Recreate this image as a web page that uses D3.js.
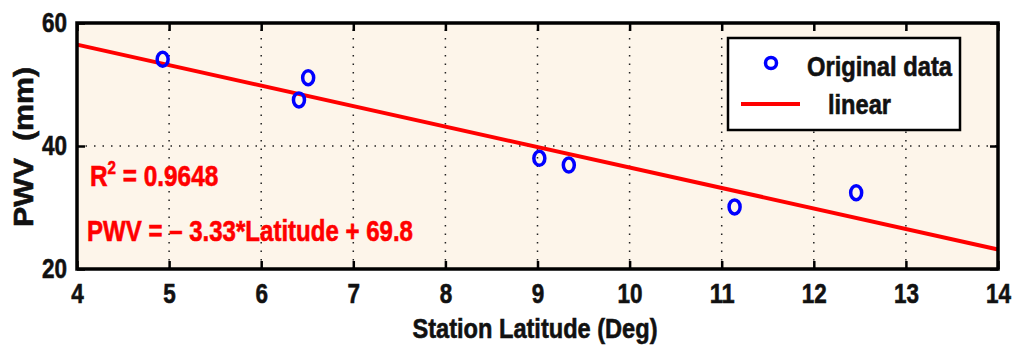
<!DOCTYPE html>
<html>
<head>
<meta charset="utf-8">
<script src="https://cdn.jsdelivr.net/npm/d3@7"></script>
<style>
body { margin: 0; background: #fff; }
text { font-family: "Liberation Sans", Arial, sans-serif; font-weight: bold; }
</style>
</head>
<body>
<svg id="chart"></svg>
<script>
// station latitude vs PWV
const latitude = [4.93, 6.41, 6.51, 9.02, 9.34, 11.14, 12.46];
const pwv = [54.1, 47.5, 51.1, 38.0, 36.9, 30.1, 32.4];
const slope = -3.33, intercept = 69.8;
const xTicks = [4, 5, 6, 7, 8, 9, 10, 11, 12, 13, 14];
const yTicks = [20, 40, 60];

const width = 1016, height = 347;
const margin = {left: 77, right: 18, top: 23, bottom: 78};

const svg = d3.select("#chart").attr("width", width).attr("height", height);

const x = d3.scaleLinear().domain([4, 14]).range([margin.left, width - margin.right]);
const y = d3.scaleLinear().domain([20, 60]).range([height - margin.bottom, margin.top]);

// the original font is a narrow heavy one, so squeeze text to its width
function squeeze(sel, w){
	sel.attr("textLength", w).attr("lengthAdjust", "spacingAndGlyphs");
}
function heavy(sel, c){
	sel.attr("stroke", c).attr("stroke-width", 0.6);
}

// background
svg.append("rect")
	.attr("x", x(4)).attr("y", y(60))
	.attr("width", x(14) - x(4)).attr("height", y(20) - y(60))
	.attr("fill", "#fdf5ea");

// dotted grid
svg.append("g").selectAll("line")
	.data(xTicks.slice(1, -1))
	.join("line")
	.attr("x1", d => x(d)).attr("x2", d => x(d))
	.attr("y1", y(20)).attr("y2", y(60))
	.attr("stroke", "#222").attr("stroke-width", 1.5)
	.attr("stroke-dasharray", "1.5,7");
svg.append("g").selectAll("line")
	.data(yTicks.slice(1, -1))
	.join("line")
	.attr("y1", d => y(d)).attr("y2", d => y(d))
	.attr("x1", x(4)).attr("x2", x(14))
	.attr("stroke", "#222").attr("stroke-width", 1.5)
	.attr("stroke-dasharray", "1.5,7");

// axes with inward ticks
const tickLen = 8;
svg.append("g")
	.attr("transform", "translate(0," + y(20) + ")")
	.call(d3.axisBottom(x).tickValues(xTicks).tickSize(-tickLen).tickPadding(14).tickFormat(d3.format("d")))
	.call(g => g.select(".domain").remove())
	.call(g => g.selectAll("line").attr("stroke-width", 2.5))
	.call(g => g.selectAll("text").attr("font-size", 28).attr("fill", "#111")
		.style("font-family", "Liberation Sans, Arial, sans-serif")
		.call(heavy, "#111")
		.each(function(d){ squeeze(d3.select(this), 12.5 * String(d).length); }));
svg.append("g")
	.attr("transform", "translate(0," + y(60) + ")")
	.call(d3.axisTop(x).tickValues(xTicks).tickSize(-tickLen).tickFormat(""))
	.call(g => g.select(".domain").remove())
	.call(g => g.selectAll("line").attr("stroke-width", 2.5));
svg.append("g")
	.attr("transform", "translate(" + x(4) + ",0)")
	.call(d3.axisLeft(y).tickValues(yTicks).tickSize(-tickLen).tickPadding(10))
	.call(g => g.select(".domain").remove())
	.call(g => g.selectAll("line").attr("stroke-width", 2.5))
	.call(g => g.selectAll("text").attr("font-size", 28).attr("fill", "#111")
		.style("font-family", "Liberation Sans, Arial, sans-serif")
		.call(heavy, "#111")
		.each(function(d){ squeeze(d3.select(this), 12.5 * String(d).length); }));
svg.append("g")
	.attr("transform", "translate(" + x(14) + ",0)")
	.call(d3.axisRight(y).tickValues(yTicks).tickSize(-tickLen).tickFormat(""))
	.call(g => g.select(".domain").remove())
	.call(g => g.selectAll("line").attr("stroke-width", 2.5));

// fit line
const line = d3.line().x(d => x(d)).y(d => y(slope * d + intercept));
svg.append("path")
	.datum([4, 14])
	.attr("d", line)
	.attr("stroke", "#ff0000").attr("stroke-width", 4).attr("fill", "none");

// data points
svg.append("g").selectAll("ellipse")
	.data(latitude.map((d, i) => [d, pwv[i]]))
	.join("ellipse")
	.attr("cx", d => x(d[0])).attr("cy", d => y(d[1]))
	.attr("rx", 5.5).attr("ry", 7)
	.attr("fill", "none").attr("stroke", "#0000ff").attr("stroke-width", 3.5);

// frame
svg.append("rect")
	.attr("x", x(4)).attr("y", y(60))
	.attr("width", x(14) - x(4)).attr("height", y(20) - y(60))
	.attr("fill", "none").attr("stroke", "#000").attr("stroke-width", 3.5);

// annotations
const r2 = svg.append("text").attr("transform", "translate(90,186) scale(0.84,1)")
	.attr("fill", "#ff0000").attr("font-size", 29).call(heavy, "#ff0000");
r2.append("tspan").text("R");
r2.append("tspan").text("2").attr("font-size", 18).attr("dy", -12);
r2.append("tspan").text(" = 0.9648").attr("dy", 12);
svg.append("text").attr("x", 87).attr("y", 241).attr("fill", "#ff0000").attr("font-size", 29)
	.text("PWV = \u2013 3.33*Latitude + 69.8")
	.call(heavy, "#ff0000")
	.call(squeeze, 326);

// axis labels
svg.append("text")
	.attr("x", 535).attr("y", 338).attr("text-anchor", "middle").attr("font-size", 28).attr("fill", "#111")
	.text("Station Latitude (Deg)")
	.call(heavy, "#111")
	.call(squeeze, 245);
svg.append("text")
	.attr("transform", "translate(33,147) rotate(-90)")
	.attr("text-anchor", "middle").attr("font-size", 28).attr("fill", "#111")
	.attr("xml:space", "preserve")
	.text("PWV  (mm)")
	.call(heavy, "#111")
	.call(squeeze, 160);

// legend
const legend = svg.append("g");
legend.append("rect")
	.attr("x", 728).attr("y", 38).attr("width", 232).attr("height", 92)
	.attr("fill", "#fff").attr("stroke", "#000").attr("stroke-width", 2.5);
legend.append("ellipse")
	.attr("cx", 771).attr("cy", 63).attr("rx", 5.5).attr("ry", 5.5)
	.attr("fill", "none").attr("stroke", "#0000ff").attr("stroke-width", 3.5);
legend.append("text").attr("x", 807).attr("y", 76).attr("font-size", 28).attr("fill", "#111")
	.text("Original data").call(heavy, "#111").call(squeeze, 145);
legend.append("line")
	.attr("x1", 741).attr("x2", 800).attr("y1", 104).attr("y2", 104)
	.attr("stroke", "#ff0000").attr("stroke-width", 4);
legend.append("text").attr("x", 828).attr("y", 114).attr("font-size", 28).attr("fill", "#111")
	.text("linear").call(heavy, "#111").call(squeeze, 63);
</script>
</body>
</html>
